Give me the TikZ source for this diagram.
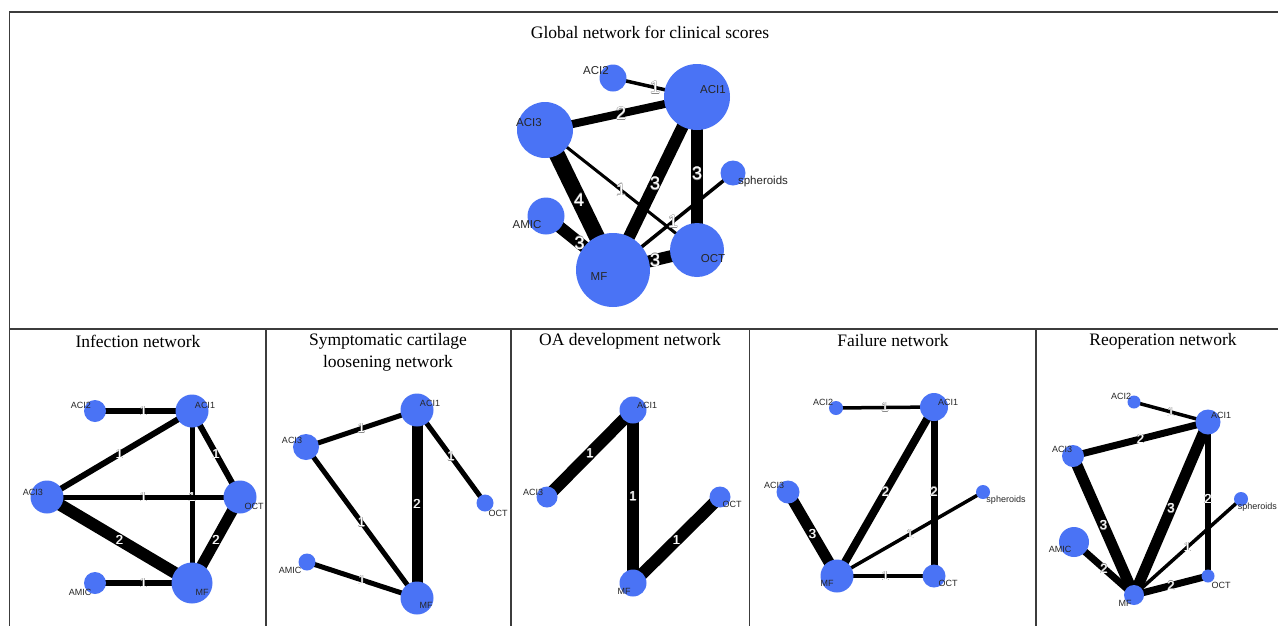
\documentclass[tikz,border=0pt]{standalone}
\usepackage{fontspec}
\setmainfont{Liberation Serif}
\setsansfont{Liberation Sans}
\usepackage{xcolor}
\definecolor{nodeblue}{HTML}{4A73F5}
\definecolor{framegray}{HTML}{3C3C3C}
\definecolor{labelgray}{HTML}{262626}
\definecolor{edgeoutline}{HTML}{8A8A8A}
\usepackage{tikz}
\usetikzlibrary{backgrounds}
\newcommand{\edgetxt}[1]{%
  \rlap{\textcolor{edgeoutline}{\hspace*{-.45pt}#1}}%
  \rlap{\textcolor{edgeoutline}{\hspace*{.45pt}#1}}%
  \rlap{\textcolor{edgeoutline}{\raisebox{.45pt}{#1}}}%
  \rlap{\textcolor{edgeoutline}{\raisebox{-.45pt}{#1}}}%
  \textcolor{white}{#1}}

\begin{document}
\begin{tikzpicture}[
    x=1pt,y=-1pt,
    frame/.style={draw=framegray, line width=1.3pt},
    paneltitle/.style={font=\fontsize{17.5}{22}\selectfont, align=center, inner sep=0pt},
    vtx/.style={circle, fill=nodeblue, inner sep=0pt, minimum size=#1},
    vlab/.style={font=\sffamily\fontsize{11.5}{13}\selectfont, text=labelgray, inner sep=0pt},
    vlabs/.style={font=\sffamily\fontsize{9}{10}\selectfont, text=labelgray, inner sep=0pt},
    lnk/.style={draw=black, line width=#1},
    wlab/.style={font=\sffamily\fontsize{18}{18}\selectfont, inner sep=0pt},
    wlabs/.style={font=\sffamily\fontsize{13}{13}\selectfont, inner sep=0pt}
  ]
  \useasboundingbox (0,0) rectangle (1278,625);
  \clip (0,0) rectangle (1278,625);
  \begin{scope}[on background layer]
    \fill[white] (0,0) rectangle (1278,625);
  \end{scope}

  % panel frames
  \draw[frame] (1290,12) -- (9.5,12) -- (9.5,640);
  \draw[frame] (9.5,329) -- (1290,329);
  \foreach \x in {266,511,749.5,1036} {\draw[frame] (\x,329) -- (\x,640);}

  % titles
  \node[paneltitle] (tglobal) at (650,32) {Global network for clinical scores};
  \node[paneltitle] (tinf) at (138,341) {Infection network};
  \node[paneltitle] (tscl) at (388,352) {Symptomatic cartilage\\loosening network};
  \node[paneltitle] (toa) at (630,341) {OA development network};
  \node[paneltitle] (tfail) at (893,341) {Failure network};
  \node[paneltitle] (treop) at (1163,341) {Reoperation network};

  % global network
  \node[vtx=27pt] (gACI2) at (613,78) {};
  \node[vtx=66pt] (gACI1) at (697,97) {};
  \node[vtx=56pt] (gACI3) at (545,130) {};
  \node[vtx=25pt] (gSph) at (733,173) {};
  \node[vtx=37pt] (gAMIC) at (546,216) {};
  \node[vtx=74pt] (gMF) at (613,270) {};
  \node[vtx=54pt] (gOCT) at (697,250) {};
  \begin{scope}[on background layer]
    \draw[lnk=3.5pt] (gACI2.center) -- node[wlab] {\edgetxt{1}} (gACI1.center);
    \draw[lnk=8pt] (gACI3.center) -- node[wlab] {\edgetxt{2}} (gACI1.center);
    \draw[lnk=16pt] (gACI3.center) -- node[wlab] {\edgetxt{4}} (gMF.center);
    \draw[lnk=3pt] (gACI3.center) -- node[wlab] {\edgetxt{1}} (gOCT.center);
    \draw[lnk=12pt] (gACI1.center) -- node[wlab] {\edgetxt{3}} (gMF.center);
    \draw[lnk=12pt] (gACI1.center) -- node[wlab] {\edgetxt{3}} (gOCT.center);
    \draw[lnk=3.5pt] (gSph.center) -- node[wlab] {\edgetxt{1}} (gMF.center);
    \draw[lnk=12pt] (gAMIC.center) -- node[wlab] {\edgetxt{3}} (gMF.center);
    \draw[lnk=12pt] (gMF.center) -- node[wlab] {\edgetxt{3}} (gOCT.center);
  \end{scope}
  \node[vlab] at (596,71) {ACI2};
  \node[vlab] at (713,90) {ACI1};
  \node[vlab] at (529,123) {ACI3};
  \node[vlab] at (763,182) {spheroids};
  \node[vlab] at (527,225) {AMIC};
  \node[vlab] at (599,277) {MF};
  \node[vlab] at (713,259) {OCT};

  % infection network
  \node[vtx=22pt] (infACI2) at (95,411) {};
  \node[vtx=33pt] (infACI1) at (192,411) {};
  \node[vtx=33pt] (infACI3) at (47,497) {};
  \node[vtx=33pt] (infOCT) at (240,497) {};
  \node[vtx=22pt] (infAMIC) at (95,583) {};
  \node[vtx=41pt] (infMF) at (192,583) {};
  \begin{scope}[on background layer]
    \draw[lnk=6pt] (infACI2.center) -- node[wlabs] {\edgetxt{1}} (infACI1.center);
    \draw[lnk=6pt] (infACI3.center) -- node[wlabs] {\edgetxt{1}} (infACI1.center);
    \draw[lnk=6pt] (infACI1.center) -- node[wlabs] {\edgetxt{1}} (infOCT.center);
    \draw[lnk=5pt] (infACI1.center) -- node[wlabs] {\edgetxt{1}} (infMF.center);
    \draw[lnk=5pt] (infACI3.center) -- node[wlabs] {\edgetxt{1}} (infOCT.center);
    \draw[lnk=12pt] (infACI3.center) -- node[wlabs] {\edgetxt{2}} (infMF.center);
    \draw[lnk=11pt] (infOCT.center) -- node[wlabs] {\edgetxt{2}} (infMF.center);
    \draw[lnk=6pt] (infAMIC.center) -- node[wlabs] {\edgetxt{1}} (infMF.center);
  \end{scope}
  \node[vlabs] at (81,405) {ACI2};
  \node[vlabs] at (205,405) {ACI1};
  \node[vlabs] at (33,492) {ACI3};
  \node[vlabs] at (254,506) {OCT};
  \node[vlabs] at (80,592) {AMIC};
  \node[vlabs] at (202,592) {MF};

  % symptomatic cartilage loosening network
  \node[vtx=33pt] (sclACI1) at (417,410) {};
  \node[vtx=26pt] (sclACI3) at (306,447) {};
  \node[vtx=17pt] (sclOCT) at (485,503) {};
  \node[vtx=17pt] (sclAMIC) at (307,562) {};
  \node[vtx=33pt] (sclMF) at (417,598) {};
  \begin{scope}[on background layer]
    \draw[lnk=5pt] (sclACI3.center) -- node[wlabs] {\edgetxt{1}} (sclACI1.center);
    \draw[lnk=5pt] (sclACI1.center) -- node[wlabs] {\edgetxt{1}} (sclOCT.center);
    \draw[lnk=5pt] (sclACI3.center) -- node[wlabs] {\edgetxt{1}} (sclMF.center);
    \draw[lnk=5pt] (sclAMIC.center) -- node[wlabs] {\edgetxt{1}} (sclMF.center);
    \draw[lnk=11pt] (sclACI1.center) -- node[wlabs] {\edgetxt{2}} (sclMF.center);
  \end{scope}
  \node[vlabs] at (430,403) {ACI1};
  \node[vlabs] at (292,440) {ACI3};
  \node[vlabs] at (498,513) {OCT};
  \node[vlabs] at (290,570) {AMIC};
  \node[vlabs] at (426,605) {MF};

  % OA development network
  \node[vtx=27pt] (oaACI1) at (633,410) {};
  \node[vtx=21pt] (oaACI3) at (547,497) {};
  \node[vtx=21pt] (oaOCT) at (720,497) {};
  \node[vtx=27pt] (oaMF) at (633,583) {};
  \begin{scope}[on background layer]
    \draw[lnk=12pt] (oaACI3.center) -- node[wlabs] {\edgetxt{1}} (oaACI1.center);
    \draw[lnk=12pt] (oaACI1.center) -- node[wlabs] {\edgetxt{1}} (oaMF.center);
    \draw[lnk=12pt] (oaMF.center) -- node[wlabs] {\edgetxt{1}} (oaOCT.center);
  \end{scope}
  \node[vlabs] at (647,405) {ACI1};
  \node[vlabs] at (533,492) {ACI3};
  \node[vlabs] at (732,504) {OCT};
  \node[vlabs] at (624,591) {MF};

  % failure network
  \node[vtx=14pt] (failACI2) at (836,408) {};
  \node[vtx=28pt] (failACI1) at (934,407) {};
  \node[vtx=23pt] (failACI3) at (788,492) {};
  \node[vtx=14pt] (failSph) at (983,492) {};
  \node[vtx=33pt] (failMF) at (837,576) {};
  \node[vtx=23pt] (failOCT) at (934,576) {};
  \begin{scope}[on background layer]
    \draw[lnk=3.5pt] (failACI2.center) -- node[wlabs] {\edgetxt{1}} (failACI1.center);
    \draw[lnk=11pt] (failACI3.center) -- node[wlabs] {\edgetxt{3}} (failMF.center);
    \draw[lnk=8pt] (failACI1.center) -- node[wlabs] {\edgetxt{2}} (failMF.center);
    \draw[lnk=7pt] (failACI1.center) -- node[wlabs] {\edgetxt{2}} (failOCT.center);
    \draw[lnk=3.5pt] (failSph.center) -- node[wlabs] {\edgetxt{1}} (failMF.center);
    \draw[lnk=3.5pt] (failMF.center) -- node[wlabs] {\edgetxt{1}} (failOCT.center);
  \end{scope}
  \node[vlabs] at (823,402) {ACI2};
  \node[vlabs] at (948,402) {ACI1};
  \node[vlabs] at (774,485) {ACI3};
  \node[vlabs] at (1006,500) {spheroids};
  \node[vlabs] at (827,583) {MF};
  \node[vlabs] at (948,583) {OCT};

  % reoperation network
  \node[vtx=13pt] (reopACI2) at (1134,402) {};
  \node[vtx=25pt] (reopACI1) at (1208,422) {};
  \node[vtx=22pt] (reopACI3) at (1073,456) {};
  \node[vtx=14pt] (reopSph) at (1241,499) {};
  \node[vtx=30pt] (reopAMIC) at (1074,542) {};
  \node[vtx=13pt] (reopOCT) at (1208,576) {};
  \node[vtx=20pt] (reopMF) at (1134,595) {};
  \begin{scope}[on background layer]
    \draw[lnk=3.5pt] (reopACI2.center) -- node[wlabs] {\edgetxt{1}} (reopACI1.center);
    \draw[lnk=7pt] (reopACI3.center) -- node[wlabs] {\edgetxt{2}} (reopACI1.center);
    \draw[lnk=11pt] (reopACI3.center) -- node[wlabs] {\edgetxt{3}} (reopMF.center);
    \draw[lnk=11pt] (reopACI1.center) -- node[wlabs] {\edgetxt{3}} (reopMF.center);
    \draw[lnk=6pt] (reopACI1.center) -- node[wlabs] {\edgetxt{2}} (reopOCT.center);
    \draw[lnk=3.5pt] (reopSph.center) -- node[wlabs] {\edgetxt{1}} (reopMF.center);
    \draw[lnk=7pt] (reopAMIC.center) -- node[wlabs] {\edgetxt{2}} (reopMF.center);
    \draw[lnk=7pt] (reopMF.center) -- node[wlabs] {\edgetxt{2}} (reopOCT.center);
  \end{scope}
  \node[vlabs] at (1121,396) {ACI2};
  \node[vlabs] at (1221,415) {ACI1};
  \node[vlabs] at (1062,449) {ACI3};
  \node[vlabs, anchor=east] at (1277,507) {spheroids};
  \node[vlabs] at (1060,549) {AMIC};
  \node[vlabs] at (1221,585) {OCT};
  \node[vlabs] at (1125,603) {MF};
\end{tikzpicture}
\end{document}
